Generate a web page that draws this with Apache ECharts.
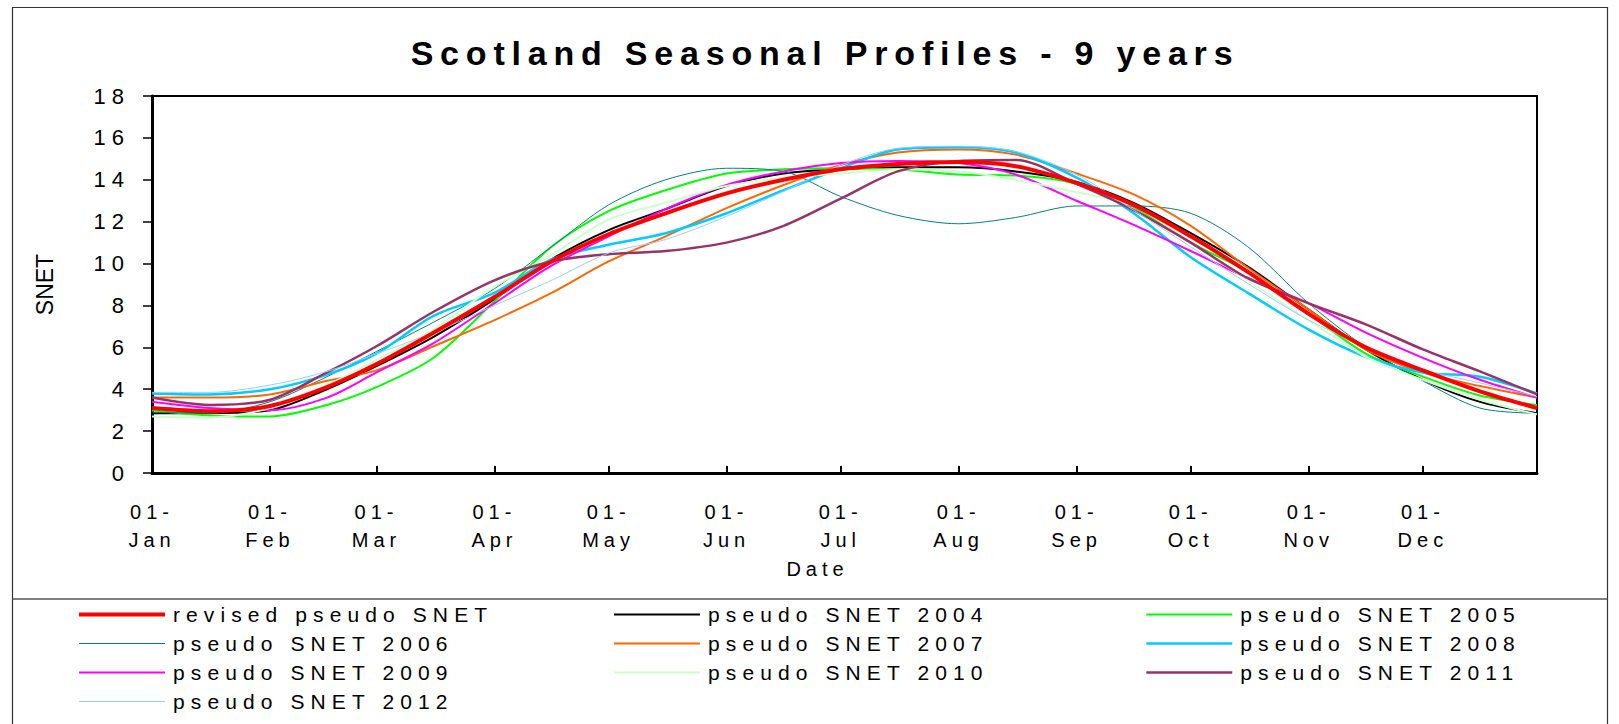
<!DOCTYPE html>
<html>
<head>
<meta charset="utf-8">
<title>Scotland Seasonal Profiles - 9 years</title>
<script src="https://cdn.jsdelivr.net/npm/echarts@6/dist/echarts.min.js"></script>
<style>
html, body { margin: 0; padding: 0; background: #fff; }
#main { width: 1619px; height: 724px; }
/* the spread-out lettering of the original, picked out by font size */
#main text[style*="34px"] { letter-spacing: 6.8px; }
#main text[style*="21px"] { letter-spacing: 6.1px; }
#main text[style*="20px"] { letter-spacing: 5px; }
#main text[style*="22px"] { letter-spacing: 6px; }
</style>
</head>
<body>
<div id="main"></div>
<script>
// axis
var monthNames = ['Jan', 'Feb', 'Mar', 'Apr', 'May', 'Jun', 'Jul', 'Aug', 'Sep', 'Oct', 'Nov', 'Dec'];
var monthDays = [31, 28, 31, 30, 31, 30, 31, 31, 30, 31, 30, 31];

// day of year (0 = 01-Jan) where the curves were read
var sampleDays = [0, 15, 31, 46, 59, 74, 90, 105, 120, 135, 151, 166, 181, 196, 212, 227, 243, 258, 273, 288, 304, 319, 334, 349, 364];

// SNET values
var revised = [3.1, 2.95, 3.2, 4.1, 5.2, 6.7, 8.4, 10.1, 11.4, 12.4, 13.35, 14.0, 14.5, 14.75, 14.85, 14.65, 13.85, 12.8, 11.3, 9.6, 7.6, 6.0, 4.9, 3.9, 3.1];
var snet2004 = [2.85, 2.85, 3.0, 4.0, 5.1, 6.5, 8.3, 10.2, 11.6, 12.6, 13.7, 14.3, 14.5, 14.6, 14.6, 14.4, 13.9, 12.9, 11.45, 9.85, 7.8, 5.9, 4.45, 3.4, 2.85];
var snet2005 = [3.0, 2.75, 2.7, 3.25, 4.1, 5.5, 8.2, 10.8, 12.5, 13.5, 14.3, 14.5, 14.55, 14.5, 14.25, 14.2, 13.8, 12.7, 11.0, 9.6, 7.6, 5.7, 4.6, 3.7, 3.25];
var snet2006 = [2.9, 2.85, 3.4, 4.6, 5.8, 7.2, 8.8, 10.8, 12.8, 14.0, 14.55, 14.4, 13.2, 12.3, 11.9, 12.2, 12.75, 12.75, 12.4, 10.8, 8.1, 6.0, 4.4, 3.1, 2.85];
var snet2007 = [3.6, 3.6, 3.75, 4.4, 4.9, 6.05, 7.3, 8.6, 10.1, 11.3, 12.65, 13.75, 14.7, 15.3, 15.45, 15.2, 14.3, 13.3, 11.8, 9.8, 7.8, 5.9, 4.8, 4.15, 3.6];
var snet2008 = [3.8, 3.75, 4.0, 4.7, 5.7, 7.5, 8.6, 10.2, 10.9, 11.45, 12.4, 13.5, 14.55, 15.45, 15.55, 15.3, 14.1, 12.4, 10.3, 8.6, 6.85, 5.55, 4.8, 4.6, 3.8];
var snet2009 = [3.4, 3.1, 3.0, 3.6, 4.8, 6.2, 8.1, 9.9, 11.3, 12.6, 13.75, 14.4, 14.8, 14.9, 14.8, 14.25, 13.0, 11.85, 10.6, 9.3, 8.1, 6.7, 5.5, 4.45, 3.6];
var snet2010 = [2.7, 2.65, 3.1, 4.2, 5.4, 6.85, 8.9, 10.4, 12.1, 12.9, 13.7, 14.1, 14.3, 14.5, 14.4, 14.0, 13.4, 12.75, 11.0, 9.2, 7.3, 5.55, 4.45, 3.5, 2.8];
var snet2011 = [3.6, 3.25, 3.5, 4.8, 6.05, 7.7, 9.2, 10.1, 10.45, 10.6, 11.0, 11.8, 13.1, 14.4, 14.9, 14.95, 13.8, 12.55, 11.0, 9.3, 8.1, 7.1, 5.9, 4.85, 3.75];
var snet2012 = [3.85, 3.85, 4.2, 4.85, 5.7, 6.7, 8.0, 9.2, 10.5, 11.15, 12.25, 13.45, 14.7, 15.5, 15.6, 15.35, 14.25, 12.55, 10.8, 9.05, 7.3, 6.05, 4.95, 4.3, 3.65];

var NARROW = '"Liberation Sans Narrow", "Arial Narrow", "Liberation Sans", Arial, sans-serif';
var PLAIN = '"Liberation Sans", Arial, sans-serif';

// line widths, used for both the plot and the legend
var widths = {
	'revised pseudo SNET': 4,
	'pseudo SNET 2004': 2,
	'pseudo SNET 2005': 2,
	'pseudo SNET 2006': 1,
	'pseudo SNET 2007': 2,
	'pseudo SNET 2008': 2.5,
	'pseudo SNET 2009': 2,
	'pseudo SNET 2010': 2,
	'pseudo SNET 2011': 2.5,
	'pseudo SNET 2012': 1
};

// one category per day: 01-Jan ... 31-Dec
var days = [];
for (var m = 0; m < 12; m++) {
	for (var d = 1; d <= monthDays[m]; d++) {
		days.push((d < 10 ? '0' + d : '' + d) + '-' + monthNames[m]);
	}
}

function isMonthStart(index, value) {
	return value.indexOf('01-') === 0;
}

function line(name, values, color, z) {
	return {
		name: name,
		type: 'line',
		data: sampleDays.map(function (day, i) { return [day, values[i]]; }),
		symbol: 'none',
		smooth: 0.3,
		silent: true,
		z: z || 2,
		lineStyle: { color: color, width: widths[name] },
		itemStyle: { color: color }
	};
}

function legendCol(left, names) {
	return {
		orient: 'vertical',
		left: left,
		top: 599,
		itemWidth: 86,
		itemHeight: 20,
		itemGap: 8,
		selectedMode: false,
		data: names.map(function (n) {
			return { name: n, lineStyle: { width: widths[n] } };
		}),
		itemStyle: { opacity: 0 },   // hide the dot, keep the line
		textStyle: { color: '#000', fontSize: 21, fontFamily: NARROW, padding: [0, 0, 0, 3] }
	};
}

var myChart = echarts.init(document.getElementById('main'), null, { renderer: 'svg' });

var option = {
	animation: false,
	backgroundColor: '#fff',
	title: {
		text: 'Scotland Seasonal Profiles - 9 years',
		left: 820,
		textAlign: 'center',
		top: 31,
		textStyle: { color: '#000', fontSize: 34, fontWeight: 'bold', fontFamily: NARROW }
	},
	legend: [
		legendCol(72, ['revised pseudo SNET', 'pseudo SNET 2006', 'pseudo SNET 2009', 'pseudo SNET 2012']),
		legendCol(608, ['pseudo SNET 2004', 'pseudo SNET 2007', 'pseudo SNET 2010']),
		legendCol(1140, ['pseudo SNET 2005', 'pseudo SNET 2008', 'pseudo SNET 2011'])
	],
	grid: {
		left: 152, right: 82, top: 96, bottom: 251,
		show: true, borderColor: '#000', borderWidth: 2
	},
	xAxis: {
		type: 'category',
		data: days,
		boundaryGap: false,
		name: 'Date',
		nameLocation: 'middle',
		nameGap: 77,
		nameTextStyle: { color: '#000', fontSize: 20, fontFamily: NARROW, padding: [0, 54, 0, 0] },
		axisLine: { lineStyle: { color: '#000', width: 3 } },
		axisTick: { inside: true, length: 7, interval: isMonthStart, lineStyle: { color: '#000', width: 2 } },
		axisLabel: {
			interval: isMonthStart,
			margin: 25,
			lineHeight: 28,
			color: '#000',
			fontSize: 20,
			fontFamily: NARROW,
			formatter: function (v) { return v.replace('-', '-\n'); }
		},
		splitLine: { show: false }
	},
	yAxis: {
		type: 'value',
		min: 0,
		max: 18,
		interval: 2,
		name: 'SNET',
		nameLocation: 'middle',
		nameGap: 96,
		nameTextStyle: { color: '#000', fontSize: 23, fontFamily: PLAIN },
		axisLine: { show: true, lineStyle: { color: '#000', width: 3 } },
		axisTick: { show: true, length: 9, lineStyle: { color: '#000', width: 1.5 } },
		axisLabel: { margin: 22, color: '#000', fontSize: 22, fontFamily: NARROW },
		splitLine: { show: false }
	},
	graphic: [
		{ type: 'rect', silent: true, shape: { x: 12.5, y: 7.5, width: 1595, height: 800 },
		  style: { fill: 'none', stroke: '#333', lineWidth: 1.2 } },
		{ type: 'line', silent: true, shape: { x1: 12.5, y1: 599, x2: 1607.5, y2: 599 },
		  style: { stroke: '#555', lineWidth: 1.5 } }
	],
	series: [
		line('revised pseudo SNET', revised, '#ff0000', 5),
		line('pseudo SNET 2004', snet2004, '#000000'),
		line('pseudo SNET 2005', snet2005, '#00ff00'),
		line('pseudo SNET 2006', snet2006, '#008080'),
		line('pseudo SNET 2007', snet2007, '#ff6600'),
		line('pseudo SNET 2008', snet2008, '#00ccff'),
		line('pseudo SNET 2009', snet2009, '#ff00ff'),
		line('pseudo SNET 2010', snet2010, '#ccffcc'),
		line('pseudo SNET 2011', snet2011, '#993366'),
		line('pseudo SNET 2012', snet2012, '#99ccff')
	]
};

myChart.setOption(option);
</script>
</body>
</html>
